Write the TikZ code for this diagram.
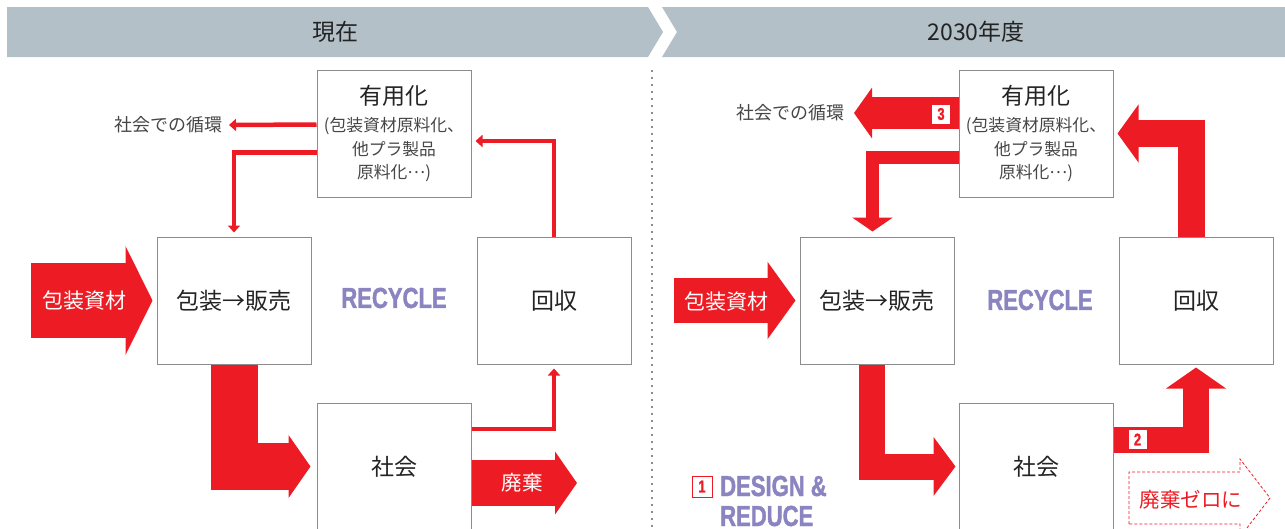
\documentclass[tikz,border=0pt]{standalone}
\usepackage{fontspec}
\usetikzlibrary{arrows.meta}
\newfontfamily\jp{Noto Sans CJK JP}
\newfontfamily\cond[FakeStretch=0.76,BoldFeatures={FakeBold=1.4}]{Liberation Sans}
\definecolor{band}{RGB}{179,192,199}
\definecolor{flowred}{RGB}{237,28,36}
\definecolor{recy}{RGB}{138,132,192}
\definecolor{frame}{RGB}{140,140,140}
\definecolor{ink}{RGB}{35,35,35}
\definecolor{soft}{RGB}{70,70,70}
\begin{document}
\begin{tikzpicture}[
        x=1pt, y=-1pt,
        box/.style={draw=frame, line width=1pt, minimum width=154pt, minimum height=127pt, inner sep=0pt, align=center, text=ink, font=\jp\fontsize{23}{28}\selectfont},
        sub/.style={text=soft, font=\jp\fontsize{16.8}{23.5}\selectfont},
        link/.style={draw=flowred, line width=4.5pt, -{Triangle[width=12pt,length=7pt]}},
        pipe/.style={draw=flowred, line join=miter},
        onred/.style={text=white, font=\jp\fontsize{21}{21}\selectfont},
        head/.style={text=ink, font=\jp\fontsize{23}{23}\selectfont},
        note/.style={text=soft, inner sep=0pt, anchor=east, font=\jp\fontsize{18}{18}\selectfont},
        slogan/.style={text=recy, inner sep=0pt, font=\cond\bfseries\fontsize{29}{29}\selectfont},
        tag/.style={fill=white, text=flowred, inner sep=0pt, minimum width=18pt, minimum height=19pt, font=\cond\bfseries\fontsize{17}{17}\selectfont},
    ]
    \useasboundingbox (0,0) rectangle (1285,528);
    \fill[band] (7,7) -- (648,7) -- (663,32) -- (648,57) -- (7,57) -- cycle;
    \fill[band] (662,7) -- (1285,7) -- (1285,57) -- (662,57) -- (677,32) -- cycle;
    \node[head] (now) at (335,32) {現在};
    \node[head] (future) at (976,32) {2030年度};
    \draw[frame, line width=1.5pt, dash pattern=on 2pt off 5pt] (652,70) -- (652,528);

    \node[box, sub] (useL) at (394,133.5) {{\color{ink}\fontsize{23}{23.5}\selectfont 有用化}\\[4pt](包装資材原料化、\\他プラ製品\\原料化\raisebox{0.3em}{…})};
    \node[box] (packL) at (234,300.5) {包装→販売};
    \node[box] (backL) at (554,300.5) {回収};
    \node[box] (socL) at (394,466.5) {社会};
    \node[slogan] (recyL) at (394,298) {RECYCLE};
    \node[note] (loopL) at (223,125) {社会での循環};
    \coordinate (inL) at (31,300.5);
    \coordinate (dumpL) at (577,483);
    \draw[pipe, line width=75pt, -{Triangle[width=108pt,length=27pt]}] (inL) -- ([xshift=-4pt]packL.west);
    \node[onred] (matL) at (84.5,301) {包装資材};
    \draw[pipe, line width=47pt, -{Triangle[width=62pt,length=22pt]}] (packL.south) |- ([xshift=-6pt]socL.west);
    \draw[pipe, line width=46pt, -{Triangle[width=62pt,length=22pt]}] (socL.east |- dumpL) -- (dumpL);
    \node[onred, font=\jp\fontsize{20.5}{20.5}\selectfont] (wasteL) at (522,483) {廃棄};
    \draw[link] ([yshift=9pt]useL.west) -- ([xshift=6pt]loopL.east);
    \draw[link] ([yshift=-19pt]useL.west) -| ([yshift=4pt]packL.north);
    \draw[link] (backL.north) |- ([xshift=4pt,yshift=-7.5pt]useL.east);
    \draw[link] ([yshift=37.5pt]socL.east) -| ([yshift=-4pt]backL.south);

    \node[box, sub] (useR) at (1036,133.5) {{\color{ink}\fontsize{23}{23.5}\selectfont 有用化}\\[4pt](包装資材原料化、\\他プラ製品\\原料化\raisebox{0.3em}{…})};
    \node[box] (packR) at (877,300.5) {包装→販売};
    \node[box] (backR) at (1196,300.5) {回収};
    \node[box] (socR) at (1036,466.5) {社会};
    \node[slogan] (recyR) at (1040,300) {RECYCLE};
    \node[note] (loopR) at (845,113) {社会での循環};
    \coordinate (inR) at (674,300.5);
    \draw[pipe, line width=45pt, -{Triangle[width=76pt,length=28pt]}] (inR) -- ([xshift=-4pt]packR.west);
    \node[onred] (matR) at (726,302) {包装資材};
    \draw[pipe, line width=26pt, -{Triangle[width=58pt,length=22pt]}] ([xshift=-5pt]packR.south) |- ([xshift=-3pt]socR.west);
    \draw[pipe, line width=26pt, -{Triangle[width=59pt,length=21pt]}] ([yshift=26.5pt]socR.east) -| ([yshift=-3pt]backR.south);
    \draw[pipe, line width=32pt, -{Triangle[width=50pt,length=18pt]}] ([yshift=20.5pt]useR.west) -- ([xshift=9pt]loopR.east);
    \draw[pipe, line width=13pt, -{Triangle[width=40pt,length=14pt]}] ([yshift=-24pt]useR.west) -| ([xshift=-4.5pt,yshift=5pt]packR.north);
    \draw[pipe, line width=27pt, -{Triangle[width=57pt,length=21pt]}] ([xshift=-5pt]backR.north) |- ([xshift=4pt]useR.east);
    \node[tag] (n3) at (941,114) {3};
    \node[tag] (n2) at (1137.5,439.5) {2};
    \node[tag, draw=flowred, line width=1pt, minimum width=20pt, minimum height=21pt] (n1) at (702,486.5) {1};
    \node[slogan, anchor=base west] (design) at (720,496) {DESIGN \&};
    \node[slogan, anchor=base west] (reduce) at (720,526) {REDUCE};
    \draw[flowred, line width=0.8pt, dash pattern=on 3pt off 2pt] (1129,524) -- (1129,472) -- (1240,472) -- (1240,459) -- (1270,498) -- (1240,537) -- (1240,524) -- cycle;
    \node[text=flowred, font=\jp\fontsize{20.5}{20.5}\selectfont] (zero) at (1191,500) {廃棄ゼロに};
\end{tikzpicture}
\end{document}
